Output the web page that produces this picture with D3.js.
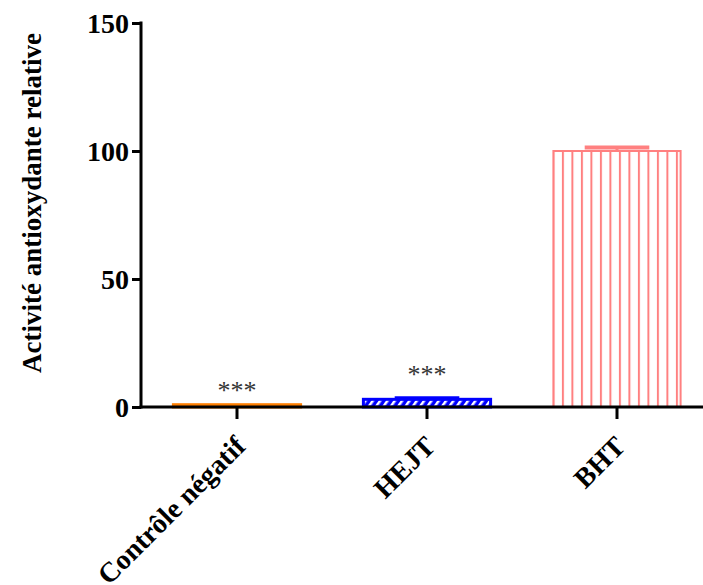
<!DOCTYPE html>
<html>
<head>
<meta charset="utf-8">
<script src="https://cdn.jsdelivr.net/npm/d3@7"></script>
<style>
  body { margin: 0; background: #fff; }
</style>
</head>
<body>
<svg id="chart" width="703" height="585"></svg>
<script>
// data
var categories = ["Contrôle négatif", "HEJT", "BHT"]
var means = [0.9, 3.0, 100]
var errors = [0, 0.8, 1.8]
var stars = ["***", "***", ""]
var yTicks = [0, 50, 100, 150]

var colors = ["#ff7f00", "#0000ff", "#ff8080"]
var serif = "'Liberation Serif', 'Times New Roman', Times, serif"

var svg = d3.select("#chart")

var x = d3.scaleBand().domain(categories).range([142, 712]).paddingInner(0.32).paddingOuter(0.16)
var y = d3.scaleLinear().domain([0, 150]).range([407, 23])

var defs = svg.append("defs")

// BHT : vertical pink lines
var bx = x("BHT")
var pv = defs.append("pattern").attr("id", "vlines").attr("patternUnits", "userSpaceOnUse")
  .attr("x", bx).attr("y", 0).attr("width", 9.5).attr("height", 10)
pv.append("rect").attr("width", 9.5).attr("height", 10).attr("fill", "#fff")
pv.append("line").attr("x1", 1).attr("x2", 1).attr("y1", 0).attr("y2", 10)
  .attr("stroke", colors[2]).attr("stroke-width", 2)

// HEJT : blue with white diagonal stripes
var pd = defs.append("pattern").attr("id", "diag").attr("patternUnits", "userSpaceOnUse")
  .attr("width", 6).attr("height", 6).attr("patternTransform", "rotate(35)")
pd.append("rect").attr("width", 6).attr("height", 6).attr("fill", colors[1])
pd.append("rect").attr("x", 0).attr("width", 2.5).attr("height", 6).attr("fill", "#fff")

var fills = [colors[0], "url(#diag)", "url(#vlines)"]

var data = categories.map(function(c, i){
  return {cat: c, mean: means[i], err: errors[i], star: stars[i], color: colors[i], fill: fills[i]}
})

var bars = svg.append("g").selectAll("g").data(data).enter().append("g")

bars.append("rect")
  .attr("x", function(d){ return x(d.cat) + 1 })
  .attr("width", x.bandwidth() - 2)
  .attr("y", function(d){ return y(d.mean) })
  .attr("height", function(d){ return Math.max(0, y(0) - y(d.mean)) })
  .attr("fill", function(d){ return d.fill })
  .attr("stroke", function(d){ return d.color })
  .attr("stroke-width", function(d, i){ return i == 2 ? 2 : 3 })

// error bars (upper only)
var errs = bars.filter(function(d){ return d.err > 0 })
errs.append("line")
  .attr("x1", function(d){ return x(d.cat) + x.bandwidth() / 2 })
  .attr("x2", function(d){ return x(d.cat) + x.bandwidth() / 2 })
  .attr("y1", function(d){ return y(d.mean) })
  .attr("y2", function(d){ return y(d.mean + d.err) })
  .attr("stroke", function(d){ return d.color }).attr("stroke-width", 3)
errs.append("line")
  .attr("x1", function(d){ return x(d.cat) + x.bandwidth() / 4 })
  .attr("x2", function(d){ return x(d.cat) + x.bandwidth() * 3 / 4 })
  .attr("y1", function(d){ return y(d.mean + d.err) + 1 })
  .attr("y2", function(d){ return y(d.mean + d.err) + 1 })
  .attr("stroke", function(d){ return d.color }).attr("stroke-width", 4)

// significance stars
bars.append("text")
  .attr("x", function(d){ return x(d.cat) + x.bandwidth() / 2 })
  .attr("y", function(d, i){ return y(d.mean + d.err) - (i == 0 ? 4 : 12) - 2 })
  .attr("text-anchor", "middle")
  .style("font-family", serif)
  .style("font-size", "26px")
  .attr("fill", "#333")
  .text(function(d){ return d.star })

// axes
var yAxis = svg.append("g").attr("transform", "translate(141,0)")
  .call(d3.axisLeft(y).tickValues(yTicks).tickSize(9).tickPadding(3).tickSizeOuter(0))
var xAxis = svg.append("g").attr("transform", "translate(0,407)")
  .call(d3.axisBottom(x).tickSize(12).tickSizeOuter(0).tickFormat(""))

svg.selectAll(".domain, .tick line").attr("stroke", "#000").attr("stroke-width", 3)
xAxis.select(".domain").attr("d", "M139.5,0H703")
yAxis.select(".domain").attr("d", "M0,21.5V408.5")
yAxis.selectAll("text").attr("fill", "#000").attr("dy", "0.35em")
  .style("font-family", serif).style("font-size", "28px").style("font-weight", "bold")

xAxis.selectAll(".tick").append("text")
  .attr("transform", "translate(10,41) rotate(-45)")
  .attr("text-anchor", "end")
  .attr("fill", "#000")
  .style("font-family", serif).style("font-size", "28px").style("font-weight", "bold")
  .text(function(d){ return d })

svg.append("text")
  .attr("transform", "translate(41,203) rotate(-90)")
  .attr("text-anchor", "middle")
  .style("font-family", serif).style("font-size", "27px").style("font-weight", "bold")
  .text("Activité antioxydante relative")
</script>
</body>
</html>
